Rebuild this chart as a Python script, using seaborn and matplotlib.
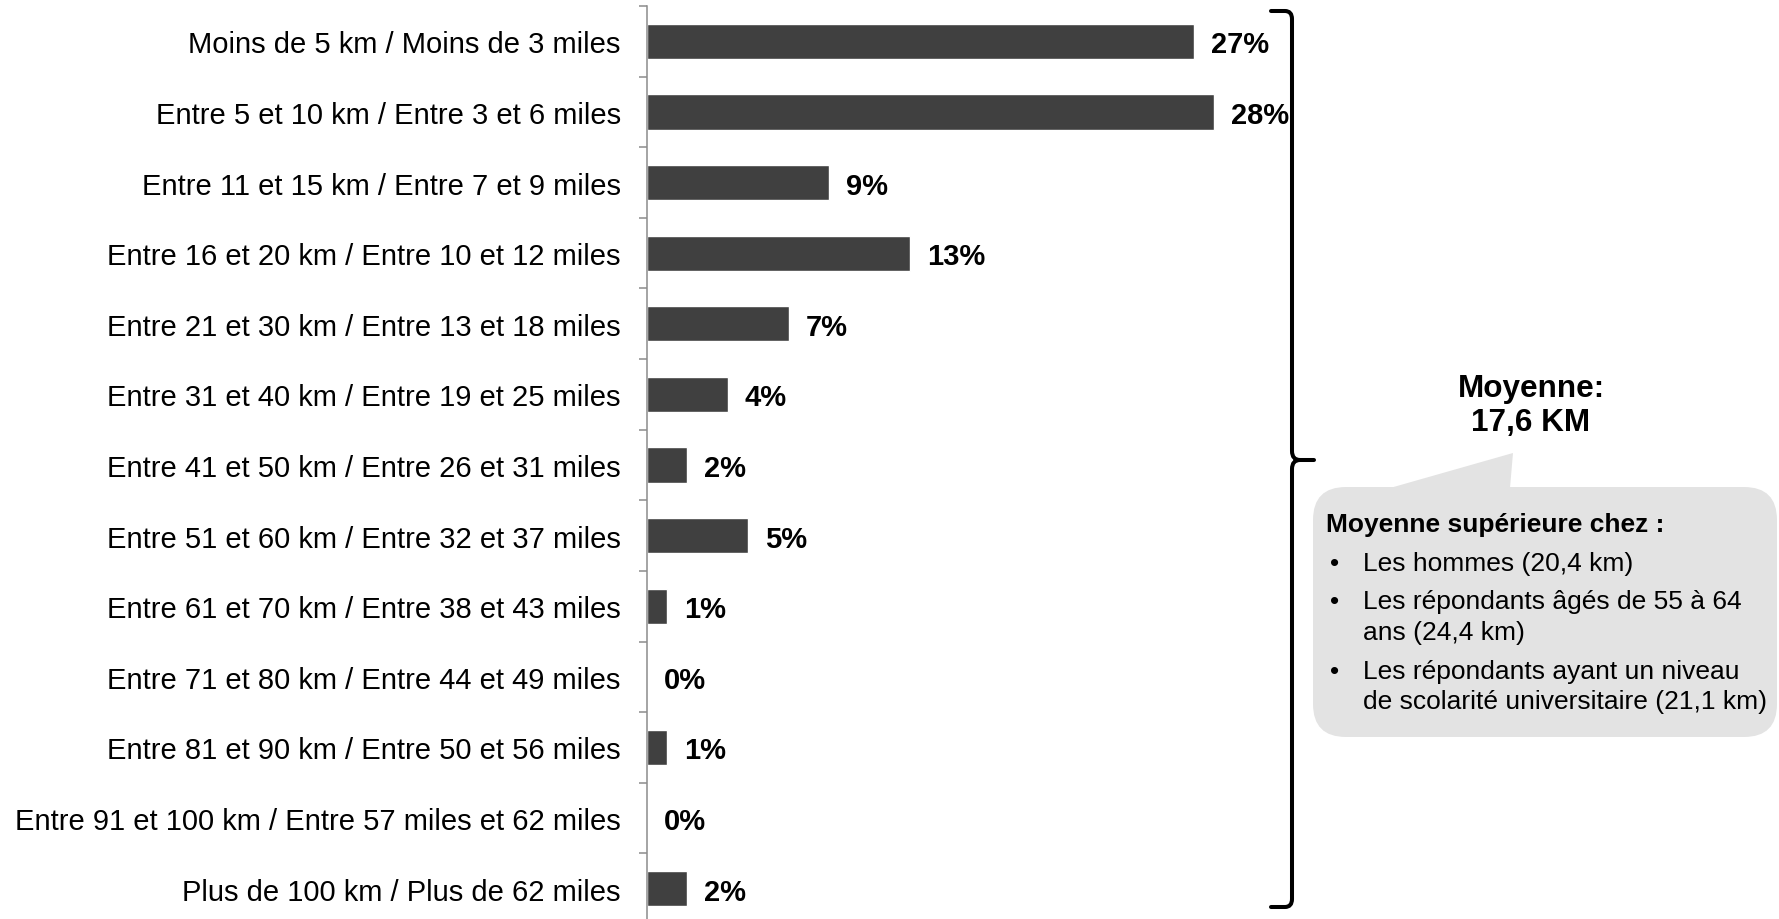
import numpy as np
import pandas as pd
import matplotlib
matplotlib.use("Agg")
import matplotlib.pyplot as plt
import seaborn as sns
from matplotlib.path import Path
from matplotlib.patches import PathPatch, FancyBboxPatch, Polygon

# ---------------- data ----------------
categories = [
    "Moins de 5 km / Moins de 3 miles",
    "Entre 5 et 10 km / Entre 3 et 6 miles",
    "Entre 11 et 15 km / Entre 7 et 9 miles",
    "Entre 16 et 20 km / Entre 10 et 12 miles",
    "Entre 21 et 30 km / Entre 13 et 18 miles",
    "Entre 31 et 40 km / Entre 19 et 25 miles",
    "Entre 41 et 50 km / Entre 26 et 31 miles",
    "Entre 51 et 60 km / Entre 32 et 37 miles",
    "Entre 61 et 70 km / Entre 38 et 43 miles",
    "Entre 71 et 80 km / Entre 44 et 49 miles",
    "Entre 81 et 90 km / Entre 50 et 56 miles",
    "Entre 91 et 100 km / Entre 57 miles et 62 miles",
    "Plus de 100 km / Plus de 62 miles",
]
percent = [27, 28, 9, 13, 7, 4, 2, 5, 1, 0, 1, 0, 2]

mean_title = "Moyenne:\n17,6 KM"
callout_header = "Moyenne supérieure chez :"
callout_items = [
    ["Les hommes (20,4 km)"],
    ["Les répondants âgés de 55 à 64", "ans (24,4 km)"],
    ["Les répondants ayant un niveau", "de scolarité universitaire (21,1 km)"],
]

df = pd.DataFrame({"cat": categories, "pct": percent})

# ---------------- style ----------------
sns.set_theme(style="white")
plt.rcParams["font.family"] = ["Liberation Sans", "DejaVu Sans"]

W, H = 1779, 920
fig = plt.figure(figsize=(W / 100, H / 100), dpi=100)

px_per_unit = 20.26
xmax = 30
ax_left, ax_top, ax_bot = 646.7, 7, 925
ax = fig.add_axes([ax_left / W, (H - ax_bot) / H,
                   xmax * px_per_unit / W, (ax_bot - ax_top) / H])

sns.barplot(data=df, x="pct", y="cat", orient="h", color="#404040",
            saturation=1, width=0.5, ax=ax)

ax.set_xlim(0, xmax)
ax.set_ylim(len(categories) - 0.5, -0.5)
ax.set_xlabel("")
ax.set_ylabel("")
ax.set_xticks([])
for s in ["top", "right", "bottom"]:
    ax.spines[s].set_visible(False)
ax.spines["left"].set_color("#8c8c8c")
ax.spines["left"].set_linewidth(1.1)
ax.tick_params(axis="y", which="major", length=0, pad=18.7,
               labelsize=21, labelcolor="black")
ax.set_yticks(np.arange(-0.5, len(categories), 1), minor=True)
ax.tick_params(axis="y", which="minor", length=5.8, width=1.1,
               color="#8c8c8c", direction="out", left=True)

for i, v in enumerate(percent):
    ax.annotate(f"{v}%", xy=(v, i), xytext=(12.2, 0),
                textcoords="offset points", ha="left", va="center_baseline",
                fontsize=21, fontweight="bold", color="black")

# ---------------- overlay (brace + callout) ----------------
ov = fig.add_axes([0, 0, 1, 1], zorder=5)
ov.set_xlim(0, W)
ov.set_ylim(H, 0)
ov.axis("off")
ov.patch.set_alpha(0)

bx, tipx, ymid = 1292, 1314, 461
verts = [
    (1271, 12), (1285, 12), (bx, 12), (bx, 20), (bx, ymid - 9), (bx, ymid), (1300, ymid), (tipx, ymid),
    (1300, ymid), (bx, ymid), (bx, ymid + 9), (bx, 900), (bx, 908), (1285, 908), (1271, 908),
]
codes = [
    Path.MOVETO, Path.LINETO, Path.CURVE3, Path.CURVE3, Path.LINETO, Path.CURVE3, Path.CURVE3, Path.LINETO,
    Path.MOVETO, Path.CURVE3, Path.CURVE3, Path.LINETO, Path.CURVE3, Path.CURVE3, Path.LINETO,
]
ov.add_patch(PathPatch(Path(verts, codes), facecolor="none", edgecolor="black",
                       linewidth=2.9, capstyle="round", joinstyle="round"))

box_col = "#e3e3e3"
ov.add_patch(FancyBboxPatch((1313, 488), 1777 - 1313, 738 - 488,
                            boxstyle="round,pad=0,rounding_size=33",
                            facecolor=box_col, edgecolor="none"))
ov.add_patch(Polygon([(1390, 489), (1513, 454), (1510, 489)], closed=True,
                     facecolor=box_col, edgecolor="none"))

ov.text(1531, 406, mean_title, ha="center", va="center", fontsize=22.7,
        fontweight="bold", color="black", linespacing=1.2)

ov.text(1326, 523, callout_header, ha="left", va="center_baseline",
        fontsize=19, fontweight="bold", color="black")
line_y = [[562], [600, 631], [670, 700]]
for item, ys in zip(callout_items, line_y):
    ov.text(1330, ys[0], "•", ha="left", va="center_baseline", fontsize=19, color="black")
    for txt, y in zip(item, ys):
        ov.text(1363, y, txt, ha="left", va="center_baseline", fontsize=19, color="black")

fig.savefig("out.png", dpi=100)
